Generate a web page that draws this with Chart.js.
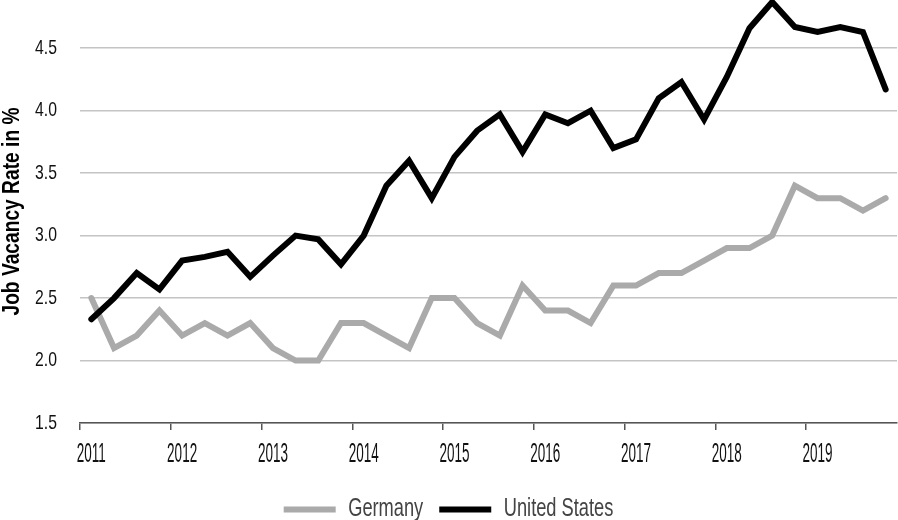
<!DOCTYPE html>
<html>
<head>
<meta charset="utf-8">
<script src="https://cdn.jsdelivr.net/npm/chart.js@4/dist/chart.umd.min.js"></script>
<style>
  html, body { margin: 0; padding: 0; background: #fff; }
  #wrap { width: 898px; height: 520px; }
</style>
</head>
<body>
<div id="wrap"><canvas id="chart"></canvas></div>
<script>
// quarterly observations, 2011 Q1 .. 2019 Q4
const quarters = [
  '2011 Q1', '2011 Q2', '2011 Q3', '2011 Q4',
  '2012 Q1', '2012 Q2', '2012 Q3', '2012 Q4',
  '2013 Q1', '2013 Q2', '2013 Q3', '2013 Q4',
  '2014 Q1', '2014 Q2', '2014 Q3', '2014 Q4',
  '2015 Q1', '2015 Q2', '2015 Q3', '2015 Q4',
  '2016 Q1', '2016 Q2', '2016 Q3', '2016 Q4',
  '2017 Q1', '2017 Q2', '2017 Q3', '2017 Q4',
  '2018 Q1', '2018 Q2', '2018 Q3', '2018 Q4',
  '2019 Q1', '2019 Q2', '2019 Q3', '2019 Q4'
];
const yearLabels = ['2011', '2012', '2013', '2014', '2015', '2016', '2017', '2018', '2019'];

const germany = [
  2.5, 2.1, 2.2, 2.4,
  2.2, 2.3, 2.2, 2.3,
  2.1, 2.0, 2.0, 2.3,
  2.3, 2.2, 2.1, 2.5,
  2.5, 2.3, 2.2, 2.6,
  2.4, 2.4, 2.3, 2.6,
  2.6, 2.7, 2.7, 2.8,
  2.9, 2.9, 3.0, 3.4,
  3.3, 3.3, 3.2, 3.3
];
const unitedStates = [
  2.33, 2.5, 2.7, 2.57,
  2.8, 2.83, 2.87, 2.67,
  2.84, 3.0, 2.97, 2.77,
  3.0, 3.4, 3.6, 3.3,
  3.63, 3.84, 3.97, 3.67,
  3.97, 3.9, 4.0, 3.7,
  3.77, 4.1, 4.23, 3.93,
  4.27, 4.66, 4.87, 4.67,
  4.63, 4.67, 4.63, 4.17
];

// No condensed face is installed, so squeeze text horizontally instead.
// The factor rides along in the font family list as a dummy name: "sx50" -> 0.5
function condenseText(ctx) {
  const fill = ctx.fillText.bind(ctx);
  const measure = ctx.measureText.bind(ctx);
  const factor = () => {
    const m = /sx(\d+)/.exec(ctx.font);
    return m ? m[1] / 100 : 1;
  };
  ctx.fillText = (text, x, y, maxWidth) => {
    const s = factor();
    if (s === 1) return fill(text, x, y, maxWidth);
    ctx.save();
    ctx.translate(x, y);
    ctx.scale(s, 1);
    if (maxWidth === undefined) fill(text, 0, 0);
    else fill(text, 0, 0, maxWidth / s);
    ctx.restore();
  };
  ctx.measureText = (text) => {
    const m = measure(text);
    const s = factor();
    if (s === 1) return m;
    return {
      width: m.width * s,
      actualBoundingBoxAscent: m.actualBoundingBoxAscent,
      actualBoundingBoxDescent: m.actualBoundingBoxDescent,
      actualBoundingBoxLeft: m.actualBoundingBoxLeft * s,
      actualBoundingBoxRight: m.actualBoundingBoxRight * s
    };
  };
}

const family = (sx) => "'Liberation Sans', sx" + sx;

const ctx = document.getElementById('chart').getContext('2d');
condenseText(ctx);

new Chart(ctx, {
  type: 'line',
  data: {
    labels: quarters,
    datasets: [
      {
        label: 'Germany',
        data: germany,
        borderColor: '#aaaaaa',
        backgroundColor: '#aaaaaa',
        borderWidth: 6,
        borderCapStyle: 'round',
        pointRadius: 0,
        tension: 0,
        order: 2
      },
      {
        label: 'United States',
        data: unitedStates,
        borderColor: '#000000',
        backgroundColor: '#000000',
        borderWidth: 6,
        borderCapStyle: 'round',
        pointRadius: 0,
        tension: 0,
        order: 1 // drawn over the grey line
      }
    ]
  },
  options: {
    responsive: true,
    maintainAspectRatio: false,
    animation: false,
    layout: { padding: { top: 0, right: 1, bottom: -12, left: 0 } },
    scales: {
      x: {
        offset: true,
        border: { display: true, color: '#555555', width: 1.5 },
        grid: {
          offset: true,
          drawOnChartArea: false,
          drawTicks: true,
          tickLength: 7,
          lineWidth: 1.5,
          // tick marks only at year boundaries
          color: (c) => (c.index % 4 === 0 ? '#555555' : 'rgba(0,0,0,0)')
        },
        ticks: {
          autoSkip: false,
          maxRotation: 0,
          padding: 8,
          color: '#111111',
          font: { family: family(50), size: 27 },
          callback: (v, i) => (i % 4 === 0 ? yearLabels[i / 4] : '')
        },
        afterFit: (scale) => {
          scale.height = 58;
          scale.paddingLeft = 0;
          scale.paddingRight = 0;
        }
      },
      y: {
        min: 1.5,
        max: 4.886,
        border: { display: false },
        grid: { color: '#c4c4c4', lineWidth: 1.5, drawTicks: false },
        ticks: {
          stepSize: 0.5,
          includeBounds: false,
          padding: 23,
          color: '#111111',
          font: { family: family(75), size: 21 },
          callback: (v) => v.toFixed(1)
        },
        title: {
          display: true,
          text: 'Job Vacancy Rate in %',
          color: '#000000',
          padding: { top: -2, bottom: 0 },
          font: { family: family(80), size: 24, weight: 'bold' }
        },
        afterFit: (scale) => {
          scale.width = 80;
          scale.paddingTop = 0;
          scale.paddingBottom = 0;
        }
      }
    },
    plugins: {
      legend: {
        position: 'bottom',
        labels: {
          usePointStyle: true,
          pointStyle: 'line',
          pointStyleWidth: 52,
          padding: 16,
          color: '#444444',
          font: { family: family(73), size: 25 },
          // keep dataset order, not draw order
          sort: (a, b) => a.datasetIndex - b.datasetIndex
        }
      },
      tooltip: { enabled: false }
    }
  }
});
</script>
</body>
</html>
